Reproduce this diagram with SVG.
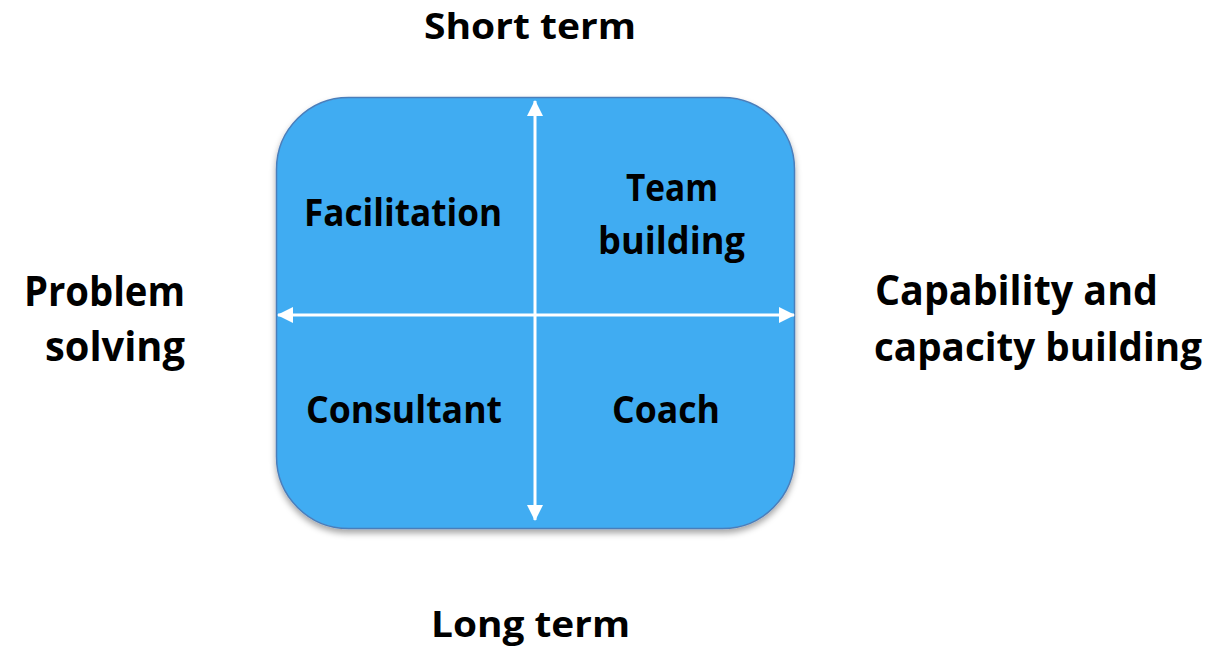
<svg xmlns="http://www.w3.org/2000/svg" width="1220" height="650" viewBox="0 0 1220 650">
<style>
text{font-family:"Open Sans","Liberation Sans",sans-serif;font-weight:700;fill:#000}
.side{font-size:41px}
.side2{font-size:39px}
.tb{font-size:36px}
.in{font-size:38px}
.axis{stroke:#fff;stroke-width:3;fill:none}
</style>
<defs>
<filter id="sh" x="-10%" y="-10%" width="120%" height="125%">
<feDropShadow dx="0" dy="4" stdDeviation="3" flood-color="#000" flood-opacity="0.35"/>
</filter>
<marker id="ah" markerUnits="userSpaceOnUse" markerWidth="16" markerHeight="16" viewBox="0 0 16 16" refX="15" refY="8" orient="auto-start-reverse">
<path d="M0,0 L16,8 L0,16 Z" fill="#fff"/>
</marker>
</defs>
<g id="quadrant">
<rect x="276.5" y="97.5" width="518" height="431" rx="72" ry="72" fill="#41ACF2" stroke="#4A7EBB" stroke-width="1.5" filter="url(#sh)"/>
</g>
<g id="connectors">
<line class="axis" x1="535" y1="101" x2="535" y2="520" marker-start="url(#ah)" marker-end="url(#ah)"/>
<line class="axis" x1="278" y1="315" x2="794" y2="315" marker-start="url(#ah)" marker-end="url(#ah)"/>
</g>
<g id="short-term"><text class="tb" x="424" y="39" textLength="212" lengthAdjust="spacingAndGlyphs">Short term</text></g>
<g id="long-term"><text class="tb" x="431" y="637" textLength="199" lengthAdjust="spacingAndGlyphs">Long term</text></g>
<g id="problem-solving">
<text class="side" x="24" y="306" textLength="161" lengthAdjust="spacingAndGlyphs">Problem</text>
<text class="side" x="45" y="361" textLength="140" lengthAdjust="spacingAndGlyphs">solving</text>
</g>
<g id="capability">
<text class="side" x="875" y="305" textLength="283" lengthAdjust="spacingAndGlyphs">Capability and</text>
<text class="side2" x="874" y="361" textLength="328" lengthAdjust="spacingAndGlyphs">capacity building</text>
</g>
<g id="facilitation"><text class="in" x="304" y="226" textLength="198" lengthAdjust="spacingAndGlyphs">Facilitation</text></g>
<g id="team-building">
<text class="in" x="626" y="201" textLength="92" lengthAdjust="spacingAndGlyphs">Team</text>
<text class="in" x="598" y="254" textLength="147" lengthAdjust="spacingAndGlyphs">building</text>
</g>
<g id="consultant"><text class="in" x="306" y="423" textLength="196" lengthAdjust="spacingAndGlyphs">Consultant</text></g>
<g id="coach"><text class="in" x="612" y="423" textLength="108" lengthAdjust="spacingAndGlyphs">Coach</text></g>
</svg>
